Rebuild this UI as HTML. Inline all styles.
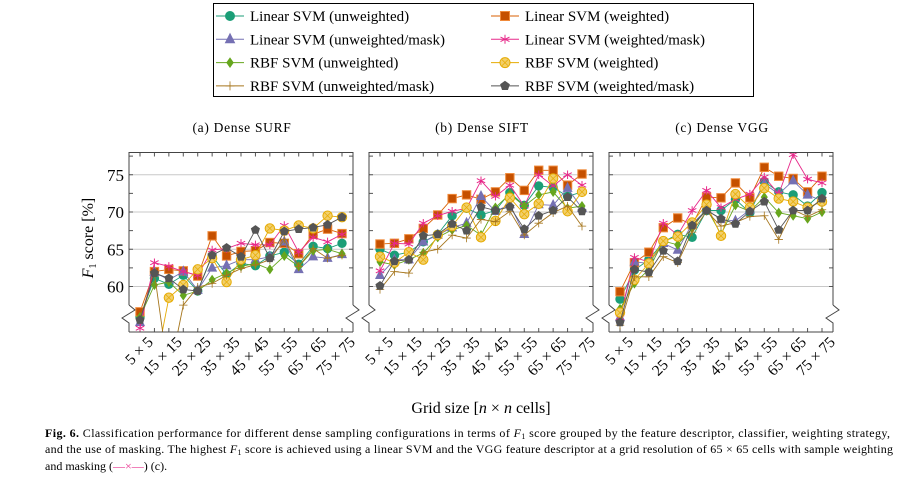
<!DOCTYPE html>
<html><head><meta charset="utf-8">
<style>
body{margin:0;background:#fff;}
svg{display:block;font-family:"Liberation Serif",serif;}
</style></head>
<body>
<svg id="chart" width="915" height="479" viewBox="0 0 915 479">
<g id="legend"></g>
<g id="panels"></g>
<text x="93" y="238" font-size="16" text-anchor="middle" transform="rotate(-90 93 238)"><tspan font-style="italic">F</tspan><tspan font-size="10" dy="3">1</tspan><tspan dy="-3"> score [%]</tspan></text>
<text x="481" y="413" font-size="16" text-anchor="middle">Grid size [<tspan font-style="italic">n</tspan> × <tspan font-style="italic">n</tspan> cells]</text>
<g font-size="12">
<text x="45" y="437" textLength="845" lengthAdjust="spacing"><tspan font-weight="bold">Fig. 6.</tspan> Classification performance for different dense sampling configurations in terms of <tspan font-style="italic">F</tspan><tspan font-size="8" dy="2">1</tspan><tspan dy="-2"> score grouped by the feature descriptor, classifier, weighting strategy,</tspan></text>
<text x="45" y="453" textLength="848" lengthAdjust="spacing">and the use of masking. The highest <tspan font-style="italic">F</tspan><tspan font-size="8" dy="2">1</tspan><tspan dy="-2"> score is achieved using a linear SVM and the VGG feature descriptor at a grid resolution of 65 × 65 cells with sample weighting</tspan></text>
<text x="45" y="470">and masking (<tspan fill="#e7298a">—×—</tspan>) (c).</text>
</g>
</svg>
<script>
const categories=["5×5","10×10","15×15","20×20","25×25","30×30","35×35","40×40","45×45","50×50","55×55","60×60","65×65","70×70","75×75"];
const tickLabels=["5 × 5","15 × 15","25 × 25","35 × 35","45 × 45","55 × 55","65 × 65","75 × 75"];
const yTicks=[60,65,70,75];
const panelTitles=["(a) Dense SURF","(b) Dense SIFT","(c) Dense VGG"];
const seriesNames=["Linear SVM (unweighted)","Linear SVM (weighted)","Linear SVM (unweighted/mask)","Linear SVM (weighted/mask)","RBF SVM (unweighted)","RBF SVM (weighted)","RBF SVM (unweighted/mask)","RBF SVM (weighted/mask)"];
// Panel (a) SURF
const surfLinU=[55.9,61.1,60.3,61.5,59.4,64.1,61.6,63.1,62.8,64.1,64.6,63.0,65.4,65.1,65.8];
const surfLinW=[56.6,62.0,62.3,62.1,61.4,66.8,64.1,64.7,64.8,65.9,65.8,64.4,67.0,67.7,67.1];
const surfLinUM=[55.2,61.9,60.9,62.0,59.5,62.5,62.8,63.6,63.6,64.0,66.0,62.3,64.0,63.8,64.3];
const surfLinWM=[54.4,63.2,62.7,62.0,61.5,64.9,65.1,65.8,65.6,65.6,68.2,64.6,66.6,66.0,67.0];
const surfRbfU=[55.9,60.2,60.6,58.8,59.4,60.9,61.8,62.7,63.1,62.3,64.1,62.7,64.8,65.0,64.4];
const surfRbfW=[48.0,48.5,58.5,60.2,62.3,63.8,60.6,63.6,64.2,67.8,67.5,68.2,67.8,69.5,69.3];
const surfRbfUM=[55.7,61.8,48.0,57.5,59.9,60.4,61.5,62.4,62.9,63.6,66.3,62.7,65.1,63.8,64.2];
const surfRbfWM=[55.5,61.8,61.1,59.6,59.4,64.2,65.2,64.0,67.6,63.8,67.4,67.7,67.9,68.3,69.3];
// Panel (b) SIFT
const siftLinU=[65.0,64.2,64.6,66.0,67.0,69.5,70.5,69.6,70.2,72.6,70.9,73.5,73.3,72.1,72.7];
const siftLinW=[65.7,65.8,66.4,67.8,69.6,71.8,72.3,71.7,72.7,74.6,72.9,75.6,75.6,73.6,75.1];
const siftLinUM=[61.5,63.6,63.6,66.0,66.9,67.9,68.5,72.1,70.1,71.0,67.0,71.0,70.9,73.2,70.5];
const siftLinWM=[62.1,65.8,65.7,68.5,69.5,70.1,70.5,74.2,72.1,73.6,70.8,75.0,73.5,75.0,73.6];
const siftRbfU=[63.3,62.9,63.6,64.5,66.6,67.6,68.2,66.9,70.6,72.4,70.8,72.3,72.7,70.5,70.8];
const siftRbfW=[64.0,63.2,64.6,63.6,66.9,68.1,70.6,66.6,68.8,71.9,69.7,71.1,74.5,70.1,72.7];
const siftRbfUM=[59.6,62.0,61.8,64.6,65.0,66.9,66.5,69.0,68.7,70.1,66.9,68.5,69.9,70.8,68.1];
const siftRbfWM=[60.1,63.4,63.6,66.8,67.0,68.4,67.5,70.7,70.2,70.7,67.7,69.5,70.2,72.0,70.1];
// Panel (c) VGG
const vggLinU=[58.3,62.2,63.6,66.0,67.0,66.6,70.2,70.2,71.7,69.9,74.1,72.7,72.3,70.8,72.6];
const vggLinW=[59.3,63.2,64.6,67.9,69.2,68.3,72.0,71.9,73.9,71.9,76.0,74.8,74.5,72.7,74.8];
const vggLinUM=[55.9,63.3,63.1,65.8,64.9,68.4,70.3,69.0,68.8,70.3,73.8,72.4,74.2,72.3,71.5];
const vggLinWM=[55.8,63.9,63.3,68.5,66.9,70.2,72.9,70.6,71.7,72.4,74.7,72.4,77.7,74.4,73.9];
const vggRbfU=[57.0,60.4,62.3,66.1,65.6,67.8,70.5,67.0,70.9,70.1,72.0,69.9,69.5,69.1,70.0];
const vggRbfW=[56.5,60.9,63.1,66.1,66.7,68.6,71.0,66.8,72.4,70.6,73.2,71.8,71.4,70.6,71.4];
const vggRbfUM=[54.8,61.3,61.3,64.0,63.2,67.3,70.1,68.1,68.6,69.4,69.5,66.3,70.3,69.4,70.3];
const vggRbfWM=[55.2,62.3,61.9,64.8,63.4,68.2,70.2,69.1,68.4,70.1,71.4,67.6,70.2,70.2,71.8];

const panelData=[
 [surfLinU,surfLinW,surfLinUM,surfLinWM,surfRbfU,surfRbfW,surfRbfUM,surfRbfWM],
 [siftLinU,siftLinW,siftLinUM,siftLinWM,siftRbfU,siftRbfW,siftRbfUM,siftRbfWM],
 [vggLinU,vggLinW,vggLinUM,vggLinWM,vggRbfU,vggRbfW,vggRbfUM,vggRbfWM]];

const styles=[
 {c:"#1b9e77",f:"#1b9e77",m:"circle",slug:"linear-unweighted"},
 {c:"#d95f02",f:"#c55000",m:"square",slug:"linear-weighted"},
 {c:"#7570b3",f:"#7570b3",m:"triangle",slug:"linear-unweighted-mask"},
 {c:"#e7298a",f:"none",m:"star",slug:"linear-weighted-mask"},
 {c:"#66a61e",f:"#66a61e",m:"diamond",slug:"rbf-unweighted"},
 {c:"#e6ab02",f:"#f2cf6a",m:"ocircle",slug:"rbf-weighted"},
 {c:"#a6761d",f:"none",m:"plus",slug:"rbf-unweighted-mask"},
 {c:"#555555",f:"#555555",m:"pentagon",slug:"rbf-weighted-mask"}];

const NS="http://www.w3.org/2000/svg";
function el(tag,attrs,parent){const e=document.createElementNS(NS,tag);for(const k in attrs)e.setAttribute(k,attrs[k]);if(parent)parent.appendChild(e);return e;}

function marker(g,s,x,y,r){
 let e;
 if(s.m==="circle"){e=el("circle",{cx:x,cy:y,r:r,fill:s.f,stroke:s.c},g);}
 else if(s.m==="ocircle"){e=el("circle",{cx:x,cy:y,r:r+0.5,fill:s.f,stroke:s.c},g);
   el("path",{d:`M${x-3} ${y-3}L${x+3} ${y+3}M${x-3} ${y+3}L${x+3} ${y-3}`,stroke:s.c,"stroke-width":0.7},g);}
 else if(s.m==="square"){e=el("rect",{x:x-r,y:y-r,width:2*r,height:2*r,fill:s.f,stroke:"#f08a3a","stroke-width":1},g);}
 else if(s.m==="triangle"){e=el("polygon",{points:`${x},${y-r-1} ${x-r},${y+r-1} ${x+r},${y+r-1}`,fill:s.f,stroke:s.c},g);}
 else if(s.m==="diamond"){e=el("polygon",{points:`${x},${y-r} ${x-r*0.7},${y} ${x},${y+r} ${x+r*0.7},${y}`,fill:s.f,stroke:s.c},g);}
 else if(s.m==="star"){e=el("path",{d:`M${x} ${y-r}L${x} ${y+r}M${x-r} ${y-r*0.5}L${x+r} ${y+r*0.5}M${x-r} ${y+r*0.5}L${x+r} ${y-r*0.5}`,stroke:s.c,"stroke-width":1,fill:"none"},g);}
 else if(s.m==="plus"){e=el("path",{d:`M${x} ${y-r}L${x} ${y+r}M${x-r} ${y}L${x+r} ${y}`,stroke:s.c,"stroke-width":0.8,fill:"none"},g);}
 else if(s.m==="pentagon"){let p=[];for(let i=0;i<5;i++){const a=-Math.PI/2+i*2*Math.PI/5;p.push((x+r*Math.cos(a)).toFixed(1)+","+(y+r*Math.sin(a)).toFixed(1));}
   e=el("polygon",{points:p.join(" "),fill:s.f,stroke:s.c},g);}
 return e;
}

// Legend
const lg=document.getElementById("legend");
el("rect",{x:213.5,y:3.5,width:540,height:93,fill:"#fff",stroke:"#000"},lg);
seriesNames.forEach((n,i)=>{
 const col=i%2,row=Math.floor(i/2);
 const x0=col?505:230,y0=16+row*23.3;
 const g=el("g",{},lg);
 
 
 el("line",{x1:x0-14,y1:y0,x2:x0+14,y2:y0,stroke:styles[i].c,"stroke-width":1},g);
 marker(g,styles[i],x0,y0,4.5);
 const t=el("text",{x:x0+20,y:y0+5,"font-size":15},g);t.textContent=n;
});

// Panels
const panelsG=document.getElementById("panels");
const boxY0=152.5,boxY1=332,breakY=305;
const panelX=[129,369,609],boxW=224;
function yScale(v){return 286.5-(v-60)*7.45;}
panelData.forEach((series,p)=>{
 const X0=panelX[p];
 function xScale(i){return X0+11+i*(boxW-22)/(categories.length-1);}
 const g=el("g",{},panelsG);
 
 
 const tt=el("text",{x:X0+boxW/2+1,y:132,"font-size":13.5,"letter-spacing":0.7,"text-anchor":"middle"},g);
 
 
 tt.textContent=panelTitles[p];
 yTicks.forEach(v=>{el("line",{x1:X0,x2:X0+boxW,y1:yScale(v),y2:yScale(v),stroke:"#c8c8c8","stroke-width":1},g);});
 for(let v=57.5;v<=77.5;v+=2.5){const y=yScale(v);if(y<boxY0||y>breakY)continue;
  el("line",{x1:X0,x2:X0+4,y1:y,y2:y,stroke:"#555"},g);el("line",{x1:X0+boxW-4,x2:X0+boxW,y1:y,y2:y,stroke:"#555"},g);}
 categories.forEach((c,i)=>{el("line",{x1:xScale(i),x2:xScale(i),y1:boxY0,y2:boxY0+4,stroke:"#555"},g);
  el("line",{x1:xScale(i),x2:xScale(i),y1:boxY1-4,y2:boxY1,stroke:"#555"},g);});
 const cp=el("clipPath",{id:"cp"+p},g);el("rect",{x:X0,y:boxY0,width:boxW,height:boxY1-boxY0},cp);
 const dg=el("g",{"clip-path":`url(#cp${p})`},g);
 series.forEach((vals,si)=>{
  const s=styles[si];
  const sg=el("g",{},dg);
  
  
  const d=vals.map((v,i)=>(i?"L":"M")+xScale(i).toFixed(1)+" "+yScale(v).toFixed(1)).join("");
  el("path",{d:d,fill:"none",stroke:s.c,"stroke-width":0.9},sg);
  vals.forEach((v,i)=>{const m=marker(sg,s,xScale(i),yScale(v),4.2);
   
   });
 });
 const L=X0,R=X0+boxW;
 el("path",{d:`M${L} ${breakY}L${L} ${boxY0}L${R} ${boxY0}L${R} ${breakY}`,fill:"none",stroke:"#444","stroke-width":1},g);
 el("path",{d:`M${L} ${boxY1}L${R} ${boxY1}`,fill:"none",stroke:"#444","stroke-width":1},g);
 [L,R].forEach(x=>{el("path",{d:`M${x} ${breakY}L${x+6} ${breakY+5}L${x-7} ${breakY+13}L${x} ${breakY+18}L${x} ${boxY1}`,fill:"none",stroke:"#444","stroke-width":1},g);});
 if(p===0){yTicks.forEach(v=>{const t=el("text",{x:X0-5,y:yScale(v)+6,"font-size":17,"text-anchor":"end"},g);
   
   
   t.textContent=v;});}
 tickLabels.forEach((lab,k)=>{const x=xScale(k*2)+14,y=343;
  const t=el("text",{x:x,y:y,"font-size":15.5,"text-anchor":"end",transform:`rotate(-45 ${x} ${y})`},g);
  
  
  t.textContent=lab;});
});
</script>
</body></html>
